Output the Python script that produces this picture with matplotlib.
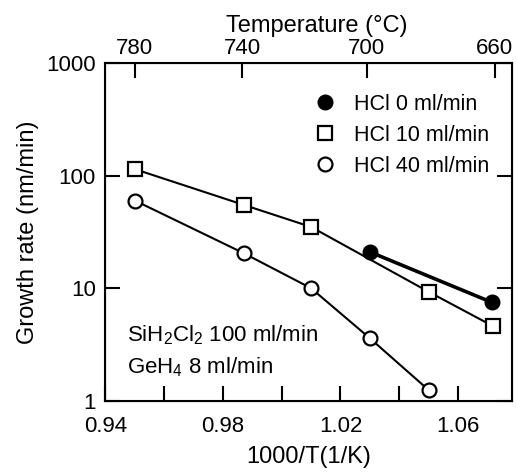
import matplotlib
matplotlib.use("Agg")
import matplotlib.pyplot as plt
from matplotlib.lines import Line2D
from matplotlib.ticker import NullLocator

plt.rcParams['font.family'] = ['Liberation Sans', 'DejaVu Sans']
plt.rcParams['mathtext.default'] = 'regular'

# values (x = 1000/T in 1/K, y = growth rate nm/min)
hcl0_x = [1.030, 1.0715]
hcl0_y = [21.0, 7.5]
hcl10_x = [0.950, 0.987, 1.010, 1.050, 1.072]
hcl10_y = [114, 55, 35, 9.3, 4.6]
hcl40_x = [0.950, 0.987, 1.010, 1.030, 1.050]
hcl40_y = [60, 20.5, 10.0, 3.6, 1.25]

bottom_ticks = [0.94, 0.96, 0.98, 1.00, 1.02, 1.04, 1.06]
bottom_labels = ['0.94', '', '0.98', '', '1.02', '', '1.06']
y_ticks = [1, 10, 100, 1000]
y_labels = ['1', '10', '100', '1000']
temp_pos = [0.950, 0.9865, 1.029, 1.0725]
temp_labels = ['780', '740', '700', '660']
legend_labels = ['HCl 0 ml/min', 'HCl 10 ml/min', 'HCl 40 ml/min']

fs_tick = 16
fs_label = 17
fs_leg = 15.5
fs_note = 16

fig = plt.figure(figsize=(5.17, 4.75), dpi=100)
ax = fig.add_axes([0.204, 0.156, 0.7863, 0.7116])

ax.plot(hcl10_x, hcl10_y, color='black', lw=1.5, marker='s', ms=9.5,
        mfc='white', mec='black', mew=1.6, zorder=3)
ax.plot(hcl40_x, hcl40_y, color='black', lw=1.5, marker='o', ms=10,
        mfc='white', mec='black', mew=1.6, zorder=3)
ax.plot(hcl0_x, hcl0_y, color='black', lw=2.6, marker='o', ms=10.5,
        mfc='black', mec='black', zorder=4)

ax.set_xlim(0.94, 1.0784)
ax.set_yscale('log')
ax.set_ylim(1, 1000)
ax.set_xticks(bottom_ticks, bottom_labels)
ax.set_yticks(y_ticks, y_labels)
ax.yaxis.set_minor_locator(NullLocator())
ax.xaxis.set_minor_locator(NullLocator())
ax.tick_params(axis='both', direction='in', length=11, width=1.5,
               labelsize=fs_tick, top=False, right=True)
ax.tick_params(axis='x', pad=11)
ax.tick_params(axis='y', pad=7)
for s in ax.spines.values():
    s.set_linewidth(1.5)

ax.set_xlabel('1000/T(1/K)', fontsize=fs_label, labelpad=6)
ax.set_ylabel('Growth rate (nm/min)', fontsize=fs_label, labelpad=5)

ax2 = ax.twiny()
ax2.set_xlim(ax.get_xlim())
ax2.set_xticks(temp_pos, temp_labels)
ax2.xaxis.set_minor_locator(NullLocator())
ax2.tick_params(axis='x', direction='in', length=11, width=1.5,
                labelsize=fs_tick, pad=3)
ax2.set_xlabel('Temperature (°C)', fontsize=fs_label)
ax2.xaxis.set_label_coords(0.52, 1.078, transform=ax2.transAxes)
ax2.xaxis.label.set_va('bottom')

handles = [
    Line2D([], [], ls='none', marker='o', ms=10.5, mfc='black', mec='black'),
    Line2D([], [], ls='none', marker='s', ms=9.5, mfc='white', mec='black', mew=1.6),
    Line2D([], [], ls='none', marker='o', ms=10, mfc='white', mec='black', mew=1.6),
]
ax.legend(handles, legend_labels, loc='upper left',
          bbox_to_anchor=(314 / 517, 1 - 94 / 475), bbox_transform=fig.transFigure,
          frameon=False, fontsize=fs_leg, handlelength=1.0, handletextpad=0.85,
          labelspacing=0.46, borderpad=0, borderaxespad=0)

ax.text(0.053, 0.175, 'SiH$_2$Cl$_2$ 100 ml/min', transform=ax.transAxes,
        fontsize=fs_note, va='baseline')
ax.text(0.053, 0.080, 'GeH$_4$ 8 ml/min', transform=ax.transAxes,
        fontsize=fs_note, va='baseline')

fig.savefig('out.png', dpi=100)
